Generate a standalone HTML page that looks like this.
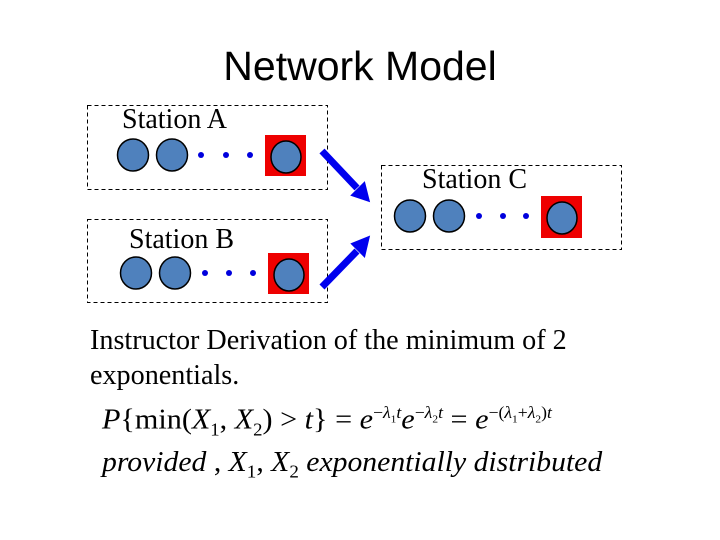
<!DOCTYPE html>
<html><head><style>
body{margin:0;width:720px;height:540px;background:#fff;overflow:hidden;position:relative}
.t{position:absolute;white-space:nowrap}
</style></head><body>
<svg width="720" height="540" style="position:absolute;left:0;top:0">
<g fill="none" stroke="#000" stroke-width="1" stroke-dasharray="4,3">
<rect x="87.5" y="105.5" width="240" height="84"/>
<rect x="87.5" y="219.5" width="240" height="83"/>
<rect x="381.5" y="165.5" width="240" height="84"/>
</g>
<g fill="#ee0000">
<rect x="265" y="135" width="41" height="41"/>
<rect x="268" y="253" width="41" height="41"/>
<rect x="541" y="196" width="41" height="42"/>
</g>
<g fill="#4f81bd" stroke="#000" stroke-width="1.5">
<ellipse cx="133" cy="155" rx="15.5" ry="16"/><ellipse cx="172" cy="155" rx="15.5" ry="16"/><ellipse cx="286" cy="157" rx="15" ry="16"/>
<ellipse cx="136" cy="273" rx="15.5" ry="16"/><ellipse cx="175" cy="273" rx="15.5" ry="16"/><ellipse cx="289" cy="275" rx="15" ry="16"/>
<ellipse cx="410" cy="216" rx="15.5" ry="16"/><ellipse cx="449" cy="216" rx="15.5" ry="16"/><ellipse cx="562" cy="218" rx="15" ry="16"/>
</g>
<g fill="#0000dd">
<circle cx="201" cy="155" r="3"/><circle cx="226" cy="155" r="3"/><circle cx="250" cy="155" r="3"/>
<circle cx="205" cy="273" r="3"/><circle cx="229" cy="273" r="3"/><circle cx="253" cy="273" r="3"/>
<circle cx="479" cy="216" r="3"/><circle cx="503" cy="216" r="3"/><circle cx="526" cy="216" r="3"/>
</g>
<g stroke="#0000ee" stroke-width="7" fill="#0000ee">
<line x1="322" y1="151" x2="357" y2="188"/>
<line x1="322" y1="287" x2="357" y2="251"/>
</g>
<polygon points="353,195 368,200 364,184" fill="#0000ee" stroke="#0000ee" stroke-width="3"/>
<polygon points="353,244 368,238 364,255" fill="#0000ee" stroke="#0000ee" stroke-width="3"/>
</svg>
<div class="t" style="left:0;width:720px;text-align:center;top:43px;font:41px 'Liberation Sans',sans-serif">Network Model</div>
<div class="t" style="left:122px;top:104px;font:28px 'Liberation Serif',serif">Station A</div>
<div class="t" style="left:422px;top:164px;font:28px 'Liberation Serif',serif">Station C</div>
<div class="t" style="left:129px;top:224px;font:28px 'Liberation Serif',serif">Station B</div>
<div class="t" style="left:90px;top:323px;font:28px/35px 'Liberation Serif',serif;transform-origin:0 0;transform:scaleX(1.005)">Instructor Derivation of the minimum of 2<br>exponentials.</div>
<div class="t" style="left:102px;top:403px;font:29px 'Liberation Serif',serif;transform-origin:0 0;transform:scaleX(1.04)"><i>P</i>{min(<i>X</i><sub style="font-size:18px">1</sub>, <i>X</i><sub style="font-size:18px">2</sub>) &gt; <i>t</i>} = <i>e</i><sup style="font-size:17px">−<i>λ</i><sub style="font-size:11px">1</sub><i>t</i></sup><i>e</i><sup style="font-size:17px">−<i>λ</i><sub style="font-size:11px">2</sub><i>t</i></sup> = <i>e</i><sup style="font-size:17px">−(<i>λ</i><sub style="font-size:11px">1</sub>+<i>λ</i><sub style="font-size:11px">2</sub>)<i>t</i></sup></div>
<div class="t" style="left:102px;top:447px;font:italic 28px 'Liberation Serif',serif;transform-origin:0 0;transform:scaleX(1.06)">provided<span style="font-style:normal"> , </span>X<sub style="font-size:18px;font-style:normal">1</sub><span style="font-style:normal">, </span>X<sub style="font-size:18px;font-style:normal">2</sub> exponentially distributed</div>
</body></html>
